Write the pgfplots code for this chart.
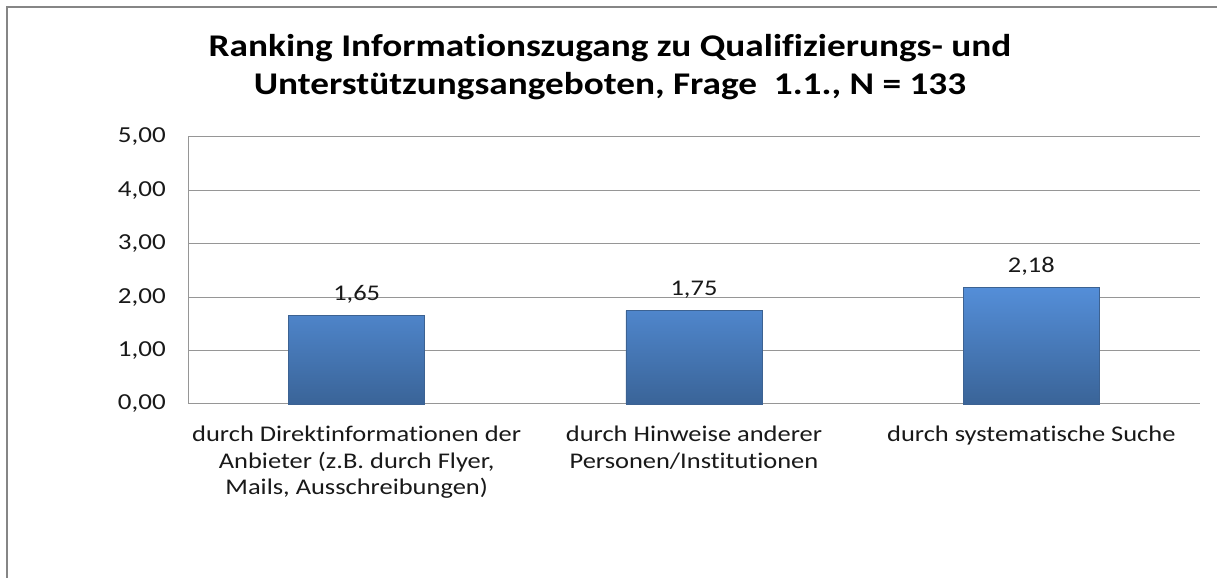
\documentclass[border=0pt]{standalone}
\usepackage{pgfplots}
\pgfplotsset{compat=1.18}
\usepackage{fontspec}
\setmainfont[FakeStretch=1.18, Ligatures=NoCommon]{Carlito}
\definecolor{framegray}{RGB}{134,134,134}
\definecolor{gridgray}{RGB}{150,150,150}
\definecolor{bartop}{RGB}{84,142,216}
\definecolor{barbot}{RGB}{58,100,152}
\definecolor{baredge}{RGB}{60,98,146}
\definecolor{txt}{RGB}{25,25,25}
\begin{document}
\begin{tikzpicture}
\useasboundingbox (0,0) rectangle (1217bp,578bp);
\fill[white] (0,0) rectangle (1217bp,578bp);
\draw[framegray, line width=2.2bp] (7bp,0) -- (7bp,571bp) -- (1217bp,571bp);
\node[anchor=base, inner sep=0pt, font=\fontsize{31.7}{36}\selectfont\bfseries, text=black] at (610bp,521bp) {Ranking Informationszugang zu Qualifizierungs- und};
\node[anchor=base, inner sep=0pt, font=\fontsize{31.7}{36}\selectfont\bfseries, text=black] at (610bp,483bp) {Unterstützungsangeboten, Frage~~1.1., N = 133};
\begin{axis}[
  at={(188bp,174bp)}, anchor=south west,
  scale only axis,
  width=1012bp, height=267bp,
  xmin=-0.5, xmax=2.5,
  ymin=0, ymax=5,
  axis lines=left,
  axis line style={gridgray, line width=1bp, -},
  ymajorgrids,
  grid style={gridgray, line width=1bp},
  major tick length=0pt,
  ytick={0,1,2,3,4,5},
  yticklabels={{0,00},{1,00},{2,00},{3,00},{4,00},{5,00}},
  yticklabel style={font=\fontsize{23}{28}\selectfont, text=txt, inner sep=0pt, anchor=east, xshift=-22bp},
  xtick={0,1,2},
  xticklabels={{durch Direktinformationen der\\Anbieter (z.B. durch Flyer,\\Mails, Ausschreibungen)},{durch Hinweise anderer\\Personen/Institutionen},{durch systematische Suche}},
  xticklabel style={font=\fontsize{22.5}{26.5}\selectfont, text=txt, align=center, inner sep=0pt, anchor=north, yshift=-22bp},
  point meta=explicit symbolic,
  nodes near coords,
  nodes near coords style={font=\fontsize{22.5}{26}\selectfont, text=txt, inner sep=0pt, anchor=south, yshift=12bp},
  clip=false,
]
\addplot[ybar, bar width=136bp, draw=baredge, top color=bartop, bottom color=barbot, line width=0.8bp]
  coordinates {(0,1.65) [1,65] (1,1.75) [1,75] (2,2.18) [2,18]};
\end{axis}
\end{tikzpicture}
\end{document}
